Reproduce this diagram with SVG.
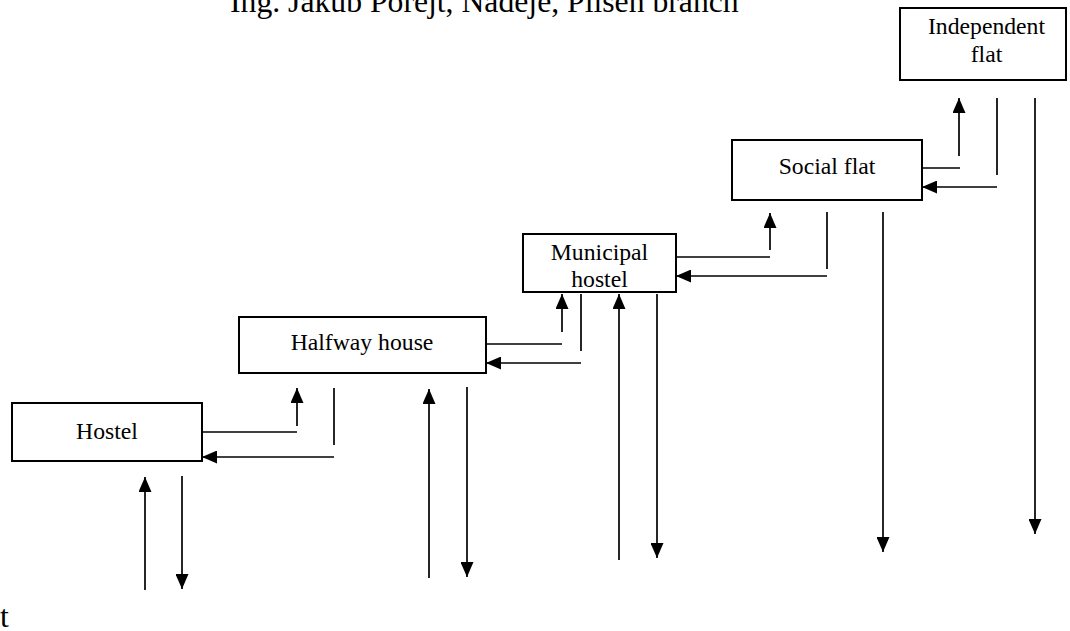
<svg xmlns="http://www.w3.org/2000/svg" width="1070" height="631" viewBox="0 0 1070 631">
<style>
.box{fill:#fff;stroke:#000;stroke-width:2}
.lbl{font-family:"Liberation Serif","Times New Roman",serif;font-size:23.7px;fill:#000;text-anchor:middle}
.big{font-family:"Liberation Serif","Times New Roman",serif;font-size:31.7px;fill:#000}
.ln{stroke:#000;stroke-width:1.7;fill:none}
.ar{stroke:#000;stroke-width:1.7;fill:none;marker-end:url(#ah)}
</style>
<defs>
<marker id="ah" markerUnits="userSpaceOnUse" markerWidth="15" markerHeight="13" refX="15" refY="6.5" orient="auto">
<path d="M0,0 L15,6.5 L0,13 Z" fill="#000"/>
</marker>
</defs>
<rect width="1070" height="631" fill="#fff"/>
<text class="big" x="230" y="12">Ing. Jakub Porejt, Nadeje, Pilsen branch</text>
<text class="big" x="0" y="627">t</text>
<g id="hostel">
<rect class="box" x="12" y="403" width="190" height="58"/>
<text class="lbl" x="107" y="439">Hostel</text>
</g>
<g id="halfway">
<rect class="box" x="239" y="317" width="247" height="56"/>
<text class="lbl" x="362" y="350">Halfway house</text>
</g>
<g id="municipal">
<rect class="box" x="523" y="234" width="153" height="58"/>
<text class="lbl" x="599.5" y="260">Municipal</text>
<text class="lbl" x="599.5" y="287">hostel</text>
</g>
<g id="social">
<rect class="box" x="732" y="140" width="190" height="60"/>
<text class="lbl" x="827" y="174">Social flat</text>
</g>
<g id="independent">
<rect class="box" x="900" y="8" width="166" height="72"/>
<text class="lbl" x="986.5" y="34">Independent</text>
<text class="lbl" x="986.5" y="62">flat</text>
</g>
<g id="connectors">
<line class="ln" x1="202" y1="432" x2="297" y2="432"/>
<line class="ar" x1="297" y1="426" x2="297" y2="388"/>
<line class="ln" x1="334" y1="388" x2="334" y2="445"/>
<line class="ar" x1="334" y1="457" x2="202" y2="457"/>
<line class="ar" x1="145" y1="590" x2="145" y2="477"/>
<line class="ar" x1="182" y1="476" x2="182" y2="589"/>
<line class="ln" x1="486" y1="344" x2="562" y2="344"/>
<line class="ar" x1="562" y1="332" x2="562" y2="294"/>
<line class="ln" x1="581" y1="294" x2="581" y2="351"/>
<line class="ar" x1="581" y1="363" x2="486" y2="363"/>
<line class="ar" x1="429" y1="578" x2="429" y2="389"/>
<line class="ar" x1="467" y1="387" x2="467" y2="577"/>
<line class="ln" x1="676" y1="257" x2="770" y2="257"/>
<line class="ar" x1="770" y1="250" x2="770" y2="213"/>
<line class="ln" x1="827" y1="212" x2="827" y2="269"/>
<line class="ar" x1="827" y1="276" x2="676" y2="276"/>
<line class="ar" x1="619" y1="560" x2="619" y2="294"/>
<line class="ar" x1="657" y1="294" x2="657" y2="558"/>
<line class="ln" x1="922" y1="168" x2="960" y2="168"/>
<line class="ar" x1="959" y1="156" x2="959" y2="98"/>
<line class="ln" x1="997" y1="98" x2="997" y2="175"/>
<line class="ar" x1="997" y1="187" x2="922" y2="187"/>
<line class="ar" x1="883" y1="212" x2="883" y2="552"/>
<line class="ar" x1="1035" y1="98" x2="1035" y2="534"/>
</g>
</svg>
